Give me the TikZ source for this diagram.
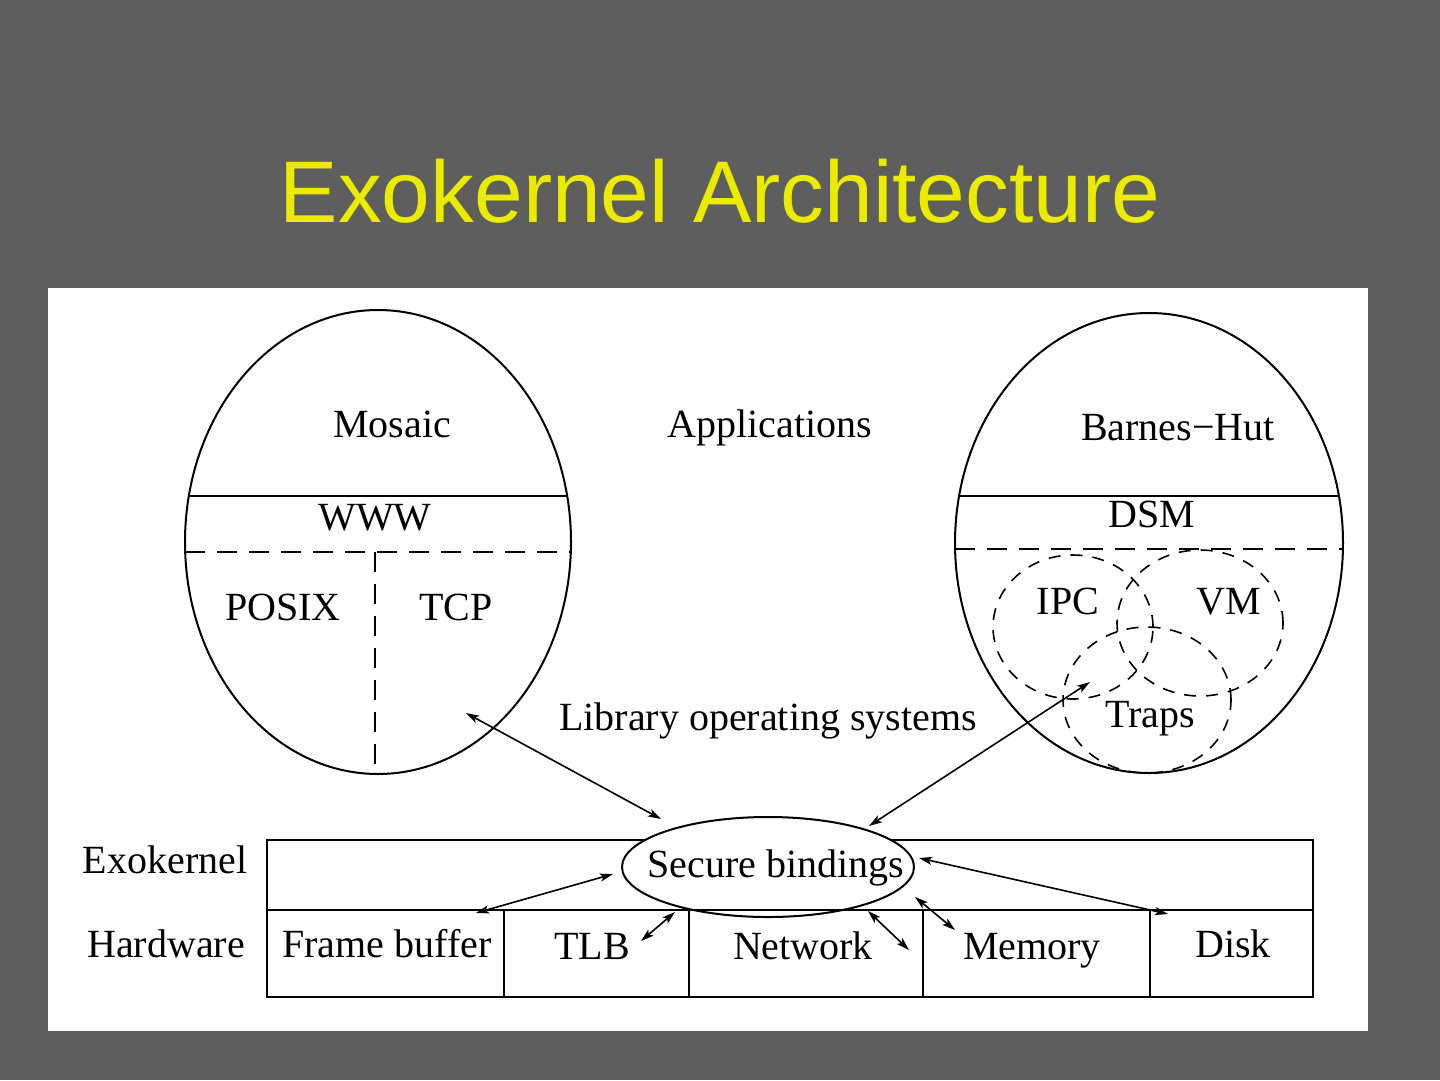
\documentclass[tikz,border=0pt]{standalone}
\usepackage{fontspec}
\setmainfont{Liberation Serif}
\newfontfamily\titlefont{Liberation Sans}
\usetikzlibrary{arrows.meta}
\definecolor{bggray}{RGB}{94,94,94}
\definecolor{titleyellow}{RGB}{235,235,0}
\begin{document}
\begin{tikzpicture}[x=1pt,y=-1pt,
  lbl/.style={anchor=base,inner sep=0pt,font=\fontsize{40}{40}\selectfont},
  bigdash/.style={line width=2pt,dash pattern=on 20pt off 12pt},
  smalldash/.style={line width=1.6pt,dash pattern=on 12pt off 10pt},
  link/.style={line width=1.6pt,{Stealth[length=13pt,width=8pt,inset=3pt]}-{Stealth[length=13pt,width=8pt,inset=3pt]}},
  outline/.style={line width=2pt}]
\useasboundingbox (0,0) rectangle (1440,1080);
\fill[bggray] (0,0) rectangle (1440,1080);
\node[anchor=base,inner sep=0pt,text=titleyellow,font=\titlefont\fontsize{87.5}{90}\selectfont] (title) at (720,222) {Exokernel Architecture};
\fill[white] (48,288) rectangle (1368,1031);

% left ellipse
\draw[outline] (378,542) ellipse [x radius=193pt, y radius=232pt];
\begin{scope}
  \clip (378,542) ellipse [x radius=193pt, y radius=232pt];
  \draw[line width=2pt] (180,496) -- (580,496);
  \draw[bigdash] (185,552) -- (575,552);
  \draw[bigdash] (375,552) -- (375,780);
\end{scope}
\node[lbl] (mosaic) at (392,437) {Mosaic};
\node[lbl] (www) at (375,530) {WWW};
\node[lbl] (posix) at (283,620) {POSIX};
\node[lbl] (tcp) at (456,620) {TCP};

% right ellipse
\draw[outline] (1149,543) ellipse [x radius=194pt, y radius=230pt];
\begin{scope}
  \clip (1149,543) ellipse [x radius=194pt, y radius=230pt];
  \draw[line width=2pt] (950,496) -- (1350,496);
  \draw[bigdash] (955,549) -- (1345,549);
\end{scope}
\draw[smalldash] (1073,627) ellipse [x radius=80pt, y radius=72pt];
\draw[smalldash] (1200,623) ellipse [x radius=83pt, y radius=73pt];
\draw[smalldash] (1147,700) ellipse [x radius=84pt, y radius=73pt];
\node[lbl] (barnes) at (1178,440) {Barnes\char"2212 Hut};
\node[lbl] (dsm) at (1152,527) {DSM};
\node[lbl] (ipc) at (1068,614) {IPC};
\node[lbl] (vm) at (1229,614) {VM};
\node[lbl] (traps) at (1150,727) {Traps};

\node[lbl] (apps) at (770,437) {Applications};
\node[lbl] (libos) at (768,730) {Library operating systems};

% exokernel row
\draw[line width=2.5pt] (267,840) rectangle (1313,910);
\draw[outline,fill=white] (768,867) ellipse [x radius=146pt, y radius=50pt];
% hardware row
\draw[line width=2.5pt] (267,910) rectangle (1313,997);
\draw[line width=2.5pt] (504,910) -- (504,997);
\draw[line width=2.5pt] (689,910) -- (689,997);
\draw[line width=2.5pt] (923,910) -- (923,997);
\draw[line width=2.5pt] (1150,910) -- (1150,997);

\node[lbl] (exo) at (165,873) {Exokernel};
\node[lbl] (hw) at (166,957) {Hardware};
\node[lbl] (sb) at (776,877) {Secure bindings};
\node[lbl] (fb) at (387,957) {Frame buffer};
\node[lbl] (tlb) at (592,959) {TLB};
\node[lbl] (net) at (803,959) {Network};
\node[lbl] (mem) at (1032,959) {Memory};
\node[lbl] (disk) at (1233,957) {Disk};

% connector end points
\coordinate (a1s) at (466,713);  \coordinate (a1e) at (661,819);
\coordinate (a2s) at (1090,682); \coordinate (a2e) at (869,826);
\coordinate (a3s) at (613,874);  \coordinate (a3e) at (476,913);
\coordinate (a4s) at (675,912);  \coordinate (a4e) at (641,941);
\coordinate (a5s) at (868,911);  \coordinate (a5e) at (909,950);
\coordinate (a6s) at (915,897);  \coordinate (a6e) at (955,930);
\coordinate (a7s) at (919,858);  \coordinate (a7e) at (1168,914);
\draw[link] (a1s) -- (a1e);
\draw[link] (a2s) -- (a2e);
\draw[link] (a3s) -- (a3e);
\draw[link] (a4s) -- (a4e);
\draw[link] (a5s) -- (a5e);
\draw[link] (a6s) -- (a6e);
\draw[link] (a7s) -- (a7e);
\end{tikzpicture}
\end{document}
